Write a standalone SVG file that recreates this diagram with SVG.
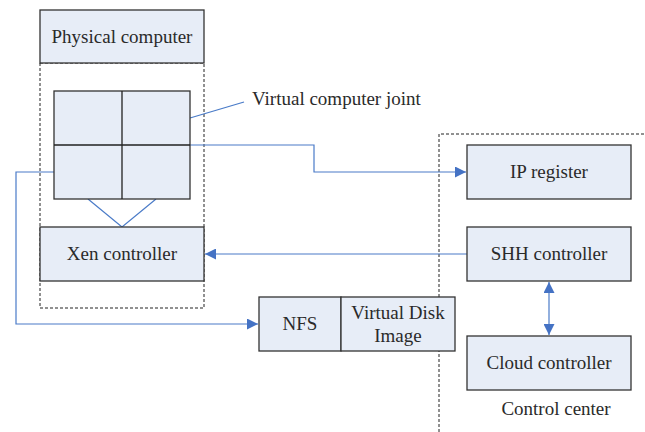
<svg xmlns="http://www.w3.org/2000/svg" width="645" height="432" viewBox="0 0 645 432">
<style>
.box{fill:#E7EDF7;stroke:#333;stroke-width:1.3}
.dash{fill:none;stroke:#222;stroke-width:1;stroke-dasharray:3,2}
.ln{fill:none;stroke:#4A7BC8;stroke-width:1.2}
text{font-family:"Liberation Serif","Times New Roman",serif;font-size:19px;fill:#2a2a2a;text-anchor:middle}
</style>
<defs>
<marker id="ah" viewBox="0 0 10 10" refX="10" refY="5" markerWidth="16" markerHeight="11" markerUnits="userSpaceOnUse" orient="auto-start-reverse">
<path d="M0,0 L10,5 L0,10 z" fill="#4472C4"/>
</marker>
</defs>
<rect x="0" y="0" width="645" height="432" fill="#fff"/>
<g id="physical-area"><rect class="dash" x="40" y="63" width="164" height="245"/></g>
<g id="control-area"><path class="dash" d="M439,432 V134 H645"/></g>
<g id="connectors">
<path class="ln" d="M190,118 L244,102"/>
<path class="ln" d="M88,199 L122,227 L156,199"/>
<path class="ln" d="M190,145 H314 V172 H466" marker-end="url(#ah)"/>
<path class="ln" d="M467,254 H205" marker-end="url(#ah)"/>
<path class="ln" d="M54,172 H16 V324 H258" marker-end="url(#ah)"/>
<path class="ln" d="M549,282 V335" marker-start="url(#ah)" marker-end="url(#ah)"/>
</g>
<g id="physical-computer"><rect class="box" x="40" y="10" width="164" height="53"/><text x="122" y="43">Physical computer</text></g>
<g id="virtual-computer-joint">
<rect class="box" x="54" y="91" width="136" height="108"/>
<path d="M122,91 V199 M54,145 H190" stroke="#222" stroke-width="1.3"/>
<text x="252" y="105" style="text-anchor:start">Virtual computer joint</text>
</g>
<g id="xen-controller"><rect class="box" x="40" y="227" width="164" height="54"/><text x="122" y="260">Xen controller</text></g>
<g id="ip-register"><rect class="box" x="467" y="145" width="164" height="54"/><text x="549" y="178">IP register</text></g>
<g id="shh-controller"><rect class="box" x="467" y="227" width="164" height="54"/><text x="549" y="260">SHH controller</text></g>
<g id="cloud-controller"><rect class="box" x="467" y="336" width="164" height="54"/><text x="549" y="369">Cloud controller</text></g>
<g id="nfs"><rect class="box" x="259" y="297" width="82" height="54"/><text x="300" y="330">NFS</text></g>
<g id="virtual-disk-image"><rect class="box" x="341" y="297" width="114" height="54"/><text x="398" y="319">Virtual Disk</text><text x="398" y="342">Image</text></g>
<g id="control-center-label"><text x="556" y="415">Control center</text></g>
</svg>
